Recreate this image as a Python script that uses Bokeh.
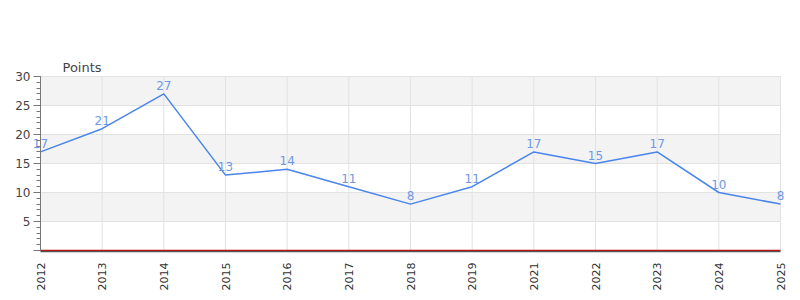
from math import pi
from bokeh.plotting import figure
from bokeh.models import Range1d, FixedTicker, ColumnDataSource
from bokeh.core.properties import value
from bokeh.embed import file_html
from bokeh.resources import INLINE

title = "Points"
years = ["2012", "2013", "2014", "2015", "2016", "2017", "2018", "2019",
         "2021", "2022", "2023", "2024", "2025"]
points = [17, 21, 27, 13, 14, 11, 8, 11, 17, 15, 17, 10, 8]
y_ticks = [0, 5, 10, 15, 20, 25, 30]

xs = list(range(len(years)))
last = len(years) - 1
ymin, ymax = y_ticks[0], y_ticks[-1]
src = ColumnDataSource(dict(x=xs, y=points, lab=[str(v) for v in points]))

# frame: x 0..790 px (data 0..last at 40..780), y 56..251 px (data 0..30 at 250..76)
upp_x = last / 740.0
upp_y = (ymax - ymin) / 174.0
p = figure(width=800, height=300, output_backend="svg", toolbar_location=None,
           x_range=Range1d(-40 * upp_x, last + 10 * upp_x),
           y_range=Range1d(ymin - 1 * upp_y, ymax + 20 * upp_y),
           min_border_left=0, min_border_right=10, min_border_top=56,
           min_border_bottom=49)
p.outline_line_color = None
p.background_fill_color = "white"
p.xgrid.visible = False
p.ygrid.visible = False

grid_color = "#e2e2e2"
# bands
p.quad(left=0, right=last, bottom=y_ticks[1::2], top=y_ticks[2::2],
       fill_color="#f3f3f3", line_color=None)
# grid lines
p.segment(x0=xs, y0=ymin, x1=xs, y1=ymax, line_color=grid_color, line_width=1)
p.segment(x0=0, y0=y_ticks[1:], x1=last, y1=y_ticks[1:], line_color=grid_color, line_width=1)

# y axis
p.yaxis.fixed_location = 0
p.yaxis.bounds = (ymin, ymax)
p.yaxis.ticker = FixedTicker(ticks=y_ticks, minor_ticks=list(range(ymin, ymax + 1)))
p.yaxis.major_label_overrides = {0: ""}
p.yaxis.axis_line_color = "#777777"
p.yaxis.major_tick_line_color = "#777777"
p.yaxis.minor_tick_line_color = "#777777"
p.yaxis.major_tick_out = 7
p.yaxis.major_tick_in = 0
p.yaxis.minor_tick_out = 4
p.yaxis.minor_tick_in = 0
p.yaxis.major_label_text_font = "DejaVu Sans"
p.yaxis.major_label_text_font_size = "12px"
p.yaxis.major_label_text_color = "#444444"
p.yaxis.major_label_standoff = 3

# x axis
p.xaxis.bounds = (0, last)
p.xaxis.ticker = FixedTicker(ticks=xs)
p.xaxis.major_label_overrides = {i: y for i, y in enumerate(years)}
p.xaxis.major_label_orientation = pi / 2
p.xaxis.axis_line_color = "#555555"
p.xaxis.axis_line_width = 1.5
p.xaxis.major_tick_line_color = None
p.xaxis.minor_tick_line_color = None
p.xaxis.major_label_text_font = "DejaVu Sans"
p.xaxis.major_label_text_font_size = "11px"
p.xaxis.major_label_text_color = "#333333"
p.xaxis.major_label_standoff = 5

# red baseline
p.segment(x0=0, y0=ymin, x1=last, y1=ymin, line_color="#d40000", line_width=1.5)

p.line("x", "y", source=src, line_color="#4a85ea", line_width=1.5)
p.text("x", "y", text="lab", source=src, text_align="center", text_baseline="bottom",
       y_offset=-4, text_font=value("DejaVu Sans"), text_font_size="12px",
       text_color="#6f98e4")

# chart title ("Points") above the plot area
p.text(x=[0], y=[ymax], text=[title], x_offset=22, y_offset=-9,
       text_align="left", text_baseline="alphabetic",
       text_font=value("DejaVu Sans"), text_font_size="13px", text_color="#444444")

open("out.html", "w").write(file_html(p, INLINE))
